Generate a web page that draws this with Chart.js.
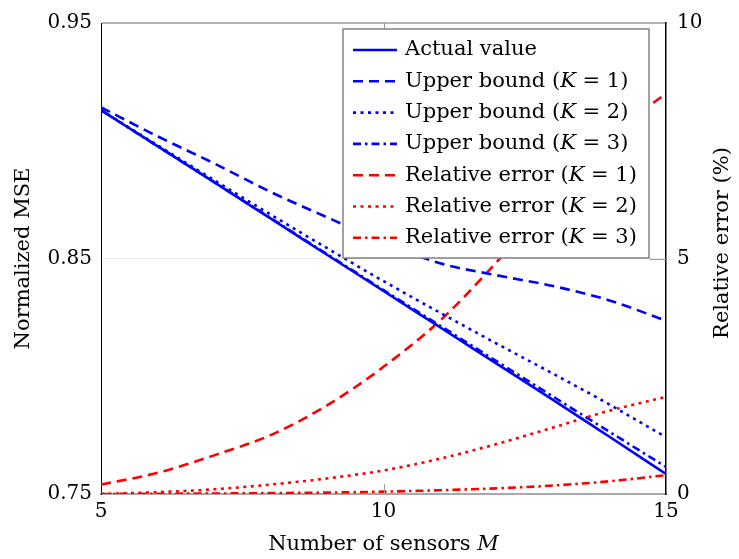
<!DOCTYPE html>
<html>
<head>
<meta charset="utf-8">
<script src="https://cdn.jsdelivr.net/npm/chart.js@4/dist/chart.umd.min.js"></script>
<style>
  html, body { margin: 0; padding: 0; background: #ffffff; }
  #wrap { width: 739px; height: 559px; }
</style>
</head>
<body>
<div id="wrap"><canvas id="c" width="739" height="559"></canvas></div>
<script>
// Number of sensors M
const sensors = [5, 6, 7, 8, 9, 10, 11, 12, 13, 14, 15];

// Normalized MSE (left axis)
const actualValue  = [0.913, 0.8977, 0.8824, 0.867, 0.8516, 0.8362, 0.8208, 0.8054, 0.790, 0.7743, 0.7585];
const upperBoundK1 = [0.9142, 0.9019, 0.8904, 0.8783, 0.8675, 0.8569, 0.848, 0.8429, 0.8383, 0.8322, 0.8236];
const upperBoundK2 = [0.913, 0.8981, 0.8833, 0.8687, 0.8544, 0.8404, 0.827, 0.8139, 0.8011, 0.788, 0.7741];
const upperBoundK3 = [0.913, 0.8977, 0.8825, 0.8672, 0.8519, 0.8366, 0.8215, 0.8064, 0.7914, 0.7764, 0.7615];

// Relative error in percent (right axis)
const relErrorK1 = [0.2, 0.45, 0.82, 1.25, 1.88, 2.7, 3.68, 4.92, 6.3, 7.6, 8.5];
const relErrorK2 = [0.0, 0.04, 0.1, 0.2, 0.33, 0.5, 0.75, 1.06, 1.41, 1.77, 2.06];
const relErrorK3 = [0.0, 0.005, 0.01, 0.02, 0.03, 0.05, 0.08, 0.12, 0.18, 0.27, 0.4];

// Tick labels
const xTicks = [5, 10, 15];
const mseTicks = [0.75, 0.85, 0.95];
const errorTicks = [0, 5, 10];

// Texts
const seriesNames = [
  'Actual value',
  'Upper bound (K = 1)',
  'Upper bound (K = 2)',
  'Upper bound (K = 3)',
  'Relative error (K = 1)',
  'Relative error (K = 2)',
  'Relative error (K = 3)'
];
const xTitle = 'Number of sensors M';
const leftTitle = 'Normalized MSE';
const rightTitle = 'Relative error (%)';

const SERIF = '"DejaVu Serif", "Liberation Serif", serif';
const BLUE = '#0000ff';
const RED = '#ff0000';
const DASHED = [10, 6];
const DOTTED = [3, 4.5];
const DASHDOT = [8, 4, 2.5, 4];

const pairs = (ys) => sensors.map((m, i) => ({ x: m, y: ys[i] }));

function line(label, ys, color, dash, axis) {
  return {
    label: label,
    data: pairs(ys),
    yAxisID: axis,
    borderColor: color,
    backgroundColor: color,
    borderWidth: 2.6,
    borderDash: dash,
    pointRadius: 0,
    pointHoverRadius: 0,
    fill: false,
    cubicInterpolationMode: 'monotone'
  };
}

// Draws a string where single-letter math symbols (K, M) are set in italics.
function drawMixed(ctx, text, x, y, size, align) {
  const parts = text.split(/(\b[KM]\b)/).filter(s => s.length);
  const fontFor = (p) => (/^[KM]$/.test(p) ? 'italic ' : '') + size + 'px ' + SERIF;
  let total = 0;
  parts.forEach(p => { ctx.font = fontFor(p); total += ctx.measureText(p).width; });
  let cx = align === 'center' ? x - total / 2 : x;
  ctx.textAlign = 'left';
  parts.forEach(p => {
    ctx.font = fontFor(p);
    ctx.fillText(p, cx, y);
    cx += ctx.measureText(p).width;
  });
}

const decorations = {
  id: 'decorations',
  afterDatasetsDraw(chart) {
    const ctx = chart.ctx;
    const a = chart.chartArea;
    const xs = chart.scales.x;
    const y1 = chart.scales.y1;
    ctx.save();

    // inner tick marks
    ctx.strokeStyle = '#9a9a9a';
    ctx.lineWidth = 1;
    ctx.setLineDash([]);
    const xm = Math.round(xs.getPixelForValue(10)) + 0.5;
    ctx.beginPath();
    ctx.moveTo(xm, a.top); ctx.lineTo(xm, a.top + 10);
    ctx.moveTo(xm, a.bottom); ctx.lineTo(xm, a.bottom - 10);
    const y5 = Math.round(y1.getPixelForValue(5)) + 0.5;
    ctx.moveTo(a.right, y5); ctx.lineTo(a.right - 16, y5);
    ctx.stroke();

    // key box
    const box = { left: 343, top: 29, width: 306, height: 229 };
    ctx.fillStyle = '#ffffff';
    ctx.fillRect(box.left, box.top, box.width, box.height);
    ctx.strokeStyle = '#7a7a7a';
    ctx.lineWidth = 1.4;
    ctx.strokeRect(box.left, box.top, box.width, box.height);

    chart.data.datasets.forEach((ds, i) => {
      const cy = 50 + i * 31.3;
      ctx.save();
      ctx.strokeStyle = ds.borderColor;
      ctx.lineWidth = ds.borderWidth;
      ctx.setLineDash(ds.borderDash || []);
      ctx.beginPath();
      ctx.moveTo(353, cy);
      ctx.lineTo(397, cy);
      ctx.stroke();
      ctx.restore();
      ctx.fillStyle = '#000000';
      ctx.textBaseline = 'middle';
      drawMixed(ctx, ds.label, 405, cy, 21, 'left');
    });

    // axis titles
    ctx.fillStyle = '#000000';
    ctx.textBaseline = 'middle';
    drawMixed(ctx, xTitle, (a.left + a.right) / 2, 545, 21, 'center');

    ctx.save();
    ctx.translate(24, (a.top + a.bottom) / 2);
    ctx.rotate(-Math.PI / 2);
    drawMixed(ctx, leftTitle, 0, 0, 21, 'center');
    ctx.restore();

    ctx.save();
    ctx.translate(723, 243);
    ctx.rotate(-Math.PI / 2);
    drawMixed(ctx, rightTitle, 0, 0, 21, 'center');
    ctx.restore();

    ctx.restore();
  }
};

new Chart(document.getElementById('c'), {
  type: 'line',
  data: {
    datasets: [
      line(seriesNames[0], actualValue, BLUE, [], 'y'),
      line(seriesNames[1], upperBoundK1, BLUE, DASHED, 'y'),
      line(seriesNames[2], upperBoundK2, BLUE, DOTTED, 'y'),
      line(seriesNames[3], upperBoundK3, BLUE, DASHDOT, 'y'),
      line(seriesNames[4], relErrorK1, RED, DASHED, 'y1'),
      line(seriesNames[5], relErrorK2, RED, DOTTED, 'y1'),
      line(seriesNames[6], relErrorK3, RED, DASHDOT, 'y1')
    ]
  },
  options: {
    responsive: false,
    animation: false,
    devicePixelRatio: 1,
    layout: { padding: { top: 14, left: 0, right: 0, bottom: 0 } },
    plugins: {
      legend: { display: false },
      tooltip: { enabled: false }
    },
    scales: {
      x: {
        type: 'linear',
        min: 5,
        max: 15,
        afterBuildTicks: (s) => { s.ticks = xTicks.map(v => ({ value: v })); },
        afterFit: (s) => { s.height = 65; },
        ticks: { color: '#000', font: { family: SERIF, size: 20 }, padding: 6, maxRotation: 0 },
        grid: { drawOnChartArea: false, drawTicks: false },
        border: { display: true, color: '#a8a8a8', width: 2 }
      },
      y: {
        position: 'left',
        min: 0.75,
        max: 0.95,
        afterBuildTicks: (s) => { s.ticks = mseTicks.map(v => ({ value: v })); },
        afterFit: (s) => { s.width = 101; },
        ticks: {
          color: '#000',
          font: { family: SERIF, size: 20 },
          padding: 9,
          callback: (v) => Number(v).toFixed(2)
        },
        grid: {
          drawTicks: false,
          color: (c) => {
            const v = c.tick ? c.tick.value : null;
            if (v === 0.95) return '#b4b4b4';
            if (v === 0.85) return '#ececec';
            return 'rgba(0,0,0,0)';
          },
          lineWidth: (c) => (c.tick && c.tick.value === 0.95 ? 2 : 1)
        },
        border: { display: true, color: '#000', width: 1 }
      },
      y1: {
        position: 'right',
        min: 0,
        max: 10,
        afterBuildTicks: (s) => { s.ticks = errorTicks.map(v => ({ value: v })); },
        afterFit: (s) => { s.width = 73; },
        ticks: { color: '#000', font: { family: SERIF, size: 20 }, padding: 11 },
        grid: { drawOnChartArea: false, drawTicks: false },
        border: { display: true, color: '#000', width: 1.5 }
      }
    }
  },
  plugins: [decorations]
});
</script>
</body>
</html>
